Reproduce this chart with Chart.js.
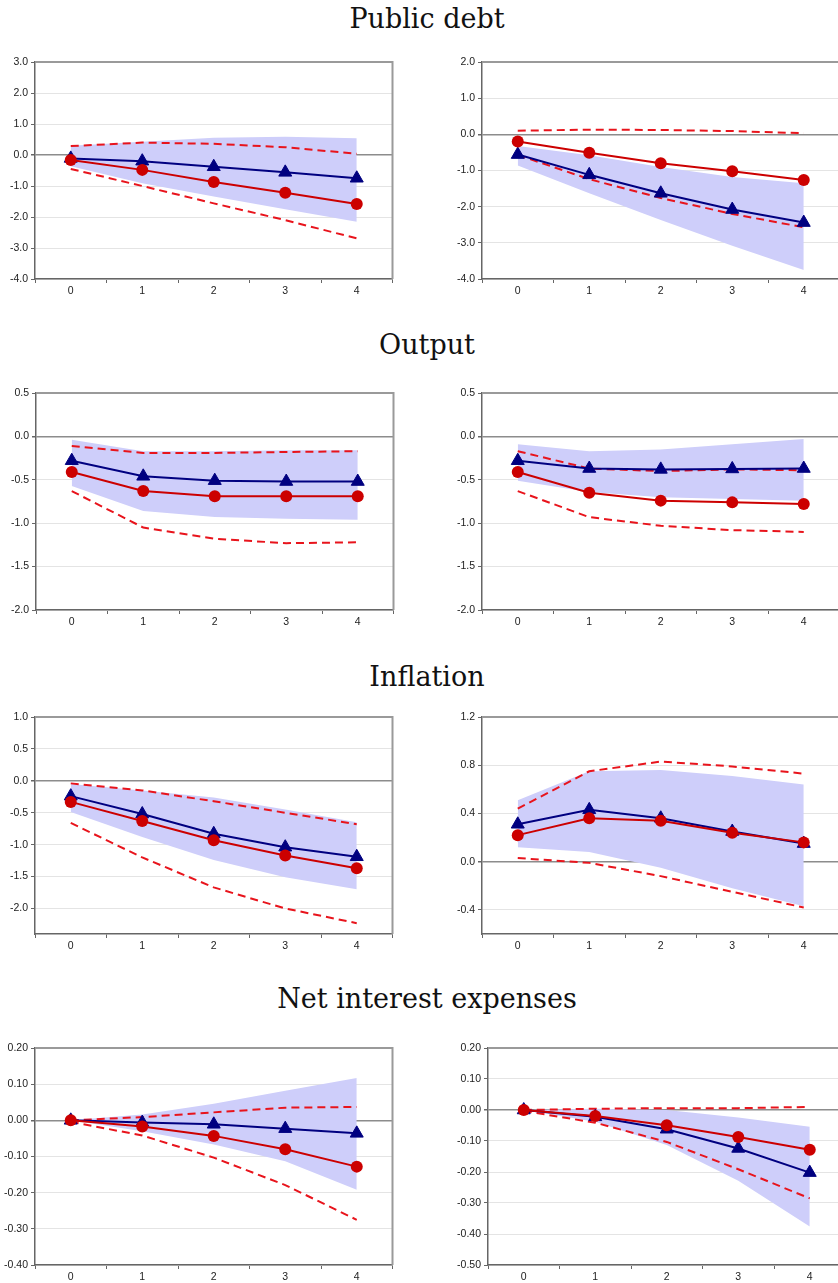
<!DOCTYPE html>
<html>
<head>
<meta charset="utf-8">
<script src="https://cdn.jsdelivr.net/npm/chart.js@4.4.1/dist/chart.umd.min.js"></script>
<style>
html, body { margin: 0; padding: 0; background: #fff; }
body { width: 838px; height: 1283px; position: relative; overflow: hidden; }
.title { position: absolute; left: 0; width: 854px; text-align: center; font-family: "DejaVu Serif", serif; font-size: 27px; line-height: 30px; color: #111; }
.panel { position: absolute; }
</style>
</head>
<body>
<div class="title" style="top:4px">Public debt</div>
<div class="title" style="top:330px">Output</div>
<div class="title" style="top:662px">Inflation</div>
<div class="title" style="top:984px">Net interest expenses</div>

<canvas id="c1" class="panel"></canvas>
<canvas id="c2" class="panel"></canvas>
<canvas id="c3" class="panel"></canvas>
<canvas id="c4" class="panel"></canvas>
<canvas id="c5" class="panel"></canvas>
<canvas id="c6" class="panel"></canvas>
<canvas id="c7" class="panel"></canvas>
<canvas id="c8" class="panel"></canvas>

<script>
// horizons (x axis)
const horizons = ['0', '1', '2', '3', '4'];

// Public debt - left
const debtL_blue   = [-0.11, -0.20, -0.38, -0.56, -0.75];
const debtL_red    = [-0.16, -0.48, -0.87, -1.22, -1.58];
const debtL_redHi  = [0.29, 0.40, 0.36, 0.25, 0.04];
const debtL_redLo  = [-0.45, -1.00, -1.56, -2.10, -2.69];
const debtL_bandHi = [0.30, 0.43, 0.56, 0.59, 0.54];
const debtL_bandLo = [-0.36, -0.91, -1.34, -1.75, -2.15];
const debtL_ticks  = [3, 2, 1, 0, -1, -2, -3, -4];

// Public debt - right
const debtR_blue   = [-0.56, -1.12, -1.63, -2.08, -2.44];
const debtR_red    = [-0.20, -0.51, -0.80, -1.02, -1.26];
const debtR_redHi  = [0.10, 0.13, 0.12, 0.09, 0.03];
const debtR_redLo  = [-0.57, -1.24, -1.76, -2.20, -2.57];
const debtR_bandHi = [-0.32, -0.58, -0.90, -1.18, -1.35];
const debtR_bandLo = [-0.86, -1.63, -2.37, -3.08, -3.75];
const debtR_ticks  = [2, 1, 0, -1, -2, -3, -4];

// Output - left
const outL_blue   = [-0.28, -0.46, -0.51, -0.52, -0.52];
const outL_red    = [-0.41, -0.63, -0.69, -0.69, -0.69];
const outL_redHi  = [-0.11, -0.19, -0.19, -0.18, -0.17];
const outL_redLo  = [-0.63, -1.05, -1.18, -1.23, -1.22];
const outL_bandHi = [-0.04, -0.17, -0.17, -0.16, -0.16];
const outL_bandLo = [-0.57, -0.86, -0.93, -0.95, -0.96];
const out_ticks   = [0.5, 0, -0.5, -1, -1.5, -2];

// Output - right
const outR_blue   = [-0.28, -0.37, -0.38, -0.375, -0.37];
const outR_red    = [-0.41, -0.65, -0.74, -0.76, -0.78];
const outR_redHi  = [-0.17, -0.37, -0.40, -0.38, -0.39];
const outR_redLo  = [-0.63, -0.93, -1.03, -1.08, -1.10];
const outR_bandHi = [-0.09, -0.17, -0.15, -0.09, -0.03];
const outR_bandLo = [-0.51, -0.64, -0.70, -0.72, -0.74];

// Inflation - left
const infL_blue   = [-0.24, -0.52, -0.83, -1.04, -1.19];
const infL_red    = [-0.33, -0.63, -0.93, -1.17, -1.37];
const infL_redHi  = [-0.04, -0.15, -0.32, -0.50, -0.68];
const infL_redLo  = [-0.66, -1.20, -1.67, -2.00, -2.23];
const infL_bandHi = [-0.05, -0.15, -0.26, -0.45, -0.65];
const infL_bandLo = [-0.49, -0.88, -1.24, -1.51, -1.70];
const infL_ticks  = [1, 0.5, 0, -0.5, -1, -1.5, -2];

// Inflation - right
const infR_blue   = [0.31, 0.43, 0.36, 0.25, 0.15];
const infR_red    = [0.22, 0.36, 0.34, 0.24, 0.16];
const infR_redHi  = [0.44, 0.75, 0.83, 0.79, 0.73];
const infR_redLo  = [0.03, -0.01, -0.12, -0.25, -0.38];
const infR_bandHi = [0.51, 0.75, 0.76, 0.71, 0.64];
const infR_bandLo = [0.12, 0.08, -0.05, -0.22, -0.37];
const infR_ticks  = [1.2, 0.8, 0.4, 0, -0.4];

// Net interest expenses - left
const nieL_blue   = [0.0, -0.006, -0.011, -0.023, -0.036];
const nieL_red    = [0.0, -0.017, -0.043, -0.080, -0.128];
const nieL_redHi  = [0.0, 0.009, 0.022, 0.035, 0.037];
const nieL_redLo  = [-0.004, -0.042, -0.103, -0.179, -0.275];
const nieL_bandHi = [0.0, 0.016, 0.046, 0.082, 0.117];
const nieL_bandLo = [0.0, -0.030, -0.067, -0.113, -0.192];
const nieL_ticks  = [0.2, 0.1, 0, -0.1, -0.2, -0.3, -0.4];

// Net interest expenses - right
const nieR_blue   = [0.0, -0.022, -0.062, -0.124, -0.202];
const nieR_red    = [0.0, -0.019, -0.049, -0.087, -0.128];
const nieR_redHi  = [0.0, 0.004, 0.006, 0.006, 0.010];
const nieR_redLo  = [-0.003, -0.041, -0.103, -0.191, -0.285];
const nieR_bandHi = [0.0, 0.004, 0.0, -0.024, -0.054];
const nieR_bandLo = [0.0, -0.038, -0.113, -0.228, -0.376];
const nieR_ticks  = [0.2, 0.1, 0, -0.1, -0.2, -0.3, -0.4, -0.5];

const panels = [
  { id: 'c1', blue: debtL_blue, red: debtL_red, hi: debtL_redHi, lo: debtL_redLo, bHi: debtL_bandHi, bLo: debtL_bandLo, ticks: debtL_ticks, min: -4, max: 3, dec: 1 },
  { id: 'c2', blue: debtR_blue, red: debtR_red, hi: debtR_redHi, lo: debtR_redLo, bHi: debtR_bandHi, bLo: debtR_bandLo, ticks: debtR_ticks, min: -4, max: 2, dec: 1 },
  { id: 'c3', blue: outL_blue, red: outL_red, hi: outL_redHi, lo: outL_redLo, bHi: outL_bandHi, bLo: outL_bandLo, ticks: out_ticks, min: -2, max: 0.5, dec: 1 },
  { id: 'c4', blue: outR_blue, red: outR_red, hi: outR_redHi, lo: outR_redLo, bHi: outR_bandHi, bLo: outR_bandLo, ticks: out_ticks, min: -2, max: 0.5, dec: 1 },
  { id: 'c5', blue: infL_blue, red: infL_red, hi: infL_redHi, lo: infL_redLo, bHi: infL_bandHi, bLo: infL_bandLo, ticks: infL_ticks, min: -2.4, max: 1, dec: 1 },
  { id: 'c6', blue: infR_blue, red: infR_red, hi: infR_redHi, lo: infR_redLo, bHi: infR_bandHi, bLo: infR_bandLo, ticks: infR_ticks, min: -0.6, max: 1.2, dec: 1 },
  { id: 'c7', blue: nieL_blue, red: nieL_red, hi: nieL_redHi, lo: nieL_redLo, bHi: nieL_bandHi, bLo: nieL_bandLo, ticks: nieL_ticks, min: -0.4, max: 0.2, dec: 2 },
  { id: 'c8', blue: nieR_blue, red: nieR_red, hi: nieR_redHi, lo: nieR_redLo, bHi: nieR_bandHi, bLo: nieR_bandLo, ticks: nieR_ticks, min: -0.5, max: 0.2, dec: 2 }
];

// page layout of each panel (plot area top-left, y-axis width)
const layout = {
  c1: { left: 0,   top: 62,   axisW: 35 },
  c2: { left: 440, top: 62,   axisW: 42 },
  c3: { left: 0,   top: 393,  axisW: 36 },
  c4: { left: 440, top: 393,  axisW: 42 },
  c5: { left: 0,   top: 717,  axisW: 35 },
  c6: { left: 440, top: 717,  axisW: 42 },
  c7: { left: 0,   top: 1048, axisW: 35 },
  c8: { left: 440, top: 1048, axisW: 48 }
};
const PLOT_W = 362, PLOT_H = 217, PAD_TOP = 10, X_AXIS_H = 24, PAD_RIGHT = 4;

const tickFont = { family: '"Liberation Sans", Arial, sans-serif', size: 10.5 };

// top and right border of the plot frame
const framePlugin = {
  id: 'frame',
  beforeDatasetsDraw(chart) {
    const a = chart.chartArea, ctx = chart.ctx;
    ctx.save();
    ctx.strokeStyle = '#9a9a9a';
    ctx.lineWidth = 2;
    ctx.beginPath();
    ctx.moveTo(a.left, a.top);
    ctx.lineTo(a.right, a.top);
    ctx.lineTo(a.right, a.bottom);
    ctx.stroke();
    ctx.restore();
  }
};

panels.forEach(function(p) {
  const l = layout[p.id];
  const canvas = document.getElementById(p.id);
  canvas.width = l.axisW + PLOT_W + PAD_RIGHT;
  canvas.height = PAD_TOP + PLOT_H + X_AXIS_H;
  canvas.style.left = l.left + 'px';
  canvas.style.top = (l.top - PAD_TOP) + 'px';

  new Chart(canvas.getContext('2d'), {
    type: 'line',
    data: {
      labels: horizons,
      datasets: [
        { data: p.red, borderColor: '#cc0000', backgroundColor: '#cc0000', borderWidth: 2,
          pointStyle: 'circle', pointRadius: 6, pointBorderWidth: 0, fill: false },
        { data: p.blue, borderColor: '#000080', backgroundColor: '#000080', borderWidth: 2,
          pointStyle: 'triangle', pointRadius: 7.5, pointBorderWidth: 1, fill: false },
        { data: p.hi, borderColor: '#e8141c', borderWidth: 2, borderDash: [8, 5], pointRadius: 0, fill: false },
        { data: p.lo, borderColor: '#e8141c', borderWidth: 2, borderDash: [8, 5], pointRadius: 0, fill: false },
        { data: p.bHi, borderWidth: 0, pointRadius: 0, fill: '+1', backgroundColor: 'rgb(206,206,250)' },
        { data: p.bLo, borderWidth: 0, pointRadius: 0, fill: false }
      ]
    },
    options: {
      responsive: false,
      animation: false,
      devicePixelRatio: 1,
      layout: { padding: { top: PAD_TOP, right: PAD_RIGHT, left: 0, bottom: 0 } },
      plugins: { legend: { display: false }, tooltip: { enabled: false } },
      elements: { line: { tension: 0 } },
      scales: {
        x: {
          type: 'category',
          offset: true,
          afterFit: function(s) { s.height = X_AXIS_H; },
          grid: { offset: true, drawOnChartArea: false, drawTicks: true, tickLength: 4, tickColor: '#666' },
          border: { color: '#666', width: 1.5 },
          ticks: { font: tickFont, color: '#222', padding: 2, maxRotation: 0, autoSkip: false }
        },
        y: {
          min: p.min,
          max: p.max,
          afterBuildTicks: function(s) { s.ticks = p.ticks.map(function(v) { return { value: v }; }); },
          afterFit: function(s) { s.width = l.axisW; },
          grid: {
            color: function(c) { return c.tick && c.tick.value === 0 ? '#8c8c8c' : '#e4e4e4'; },
            lineWidth: function(c) { return c.tick && c.tick.value === 0 ? 1.5 : 1; },
            tickColor: '#666',
            tickLength: 4
          },
          border: { color: '#666', width: 1.5 },
          ticks: {
            font: tickFont, color: '#222', padding: 3,
            callback: function(v) { return Number(v).toFixed(p.dec); }
          }
        }
      }
    },
    plugins: [framePlugin]
  });
});
</script>
</body>
</html>
